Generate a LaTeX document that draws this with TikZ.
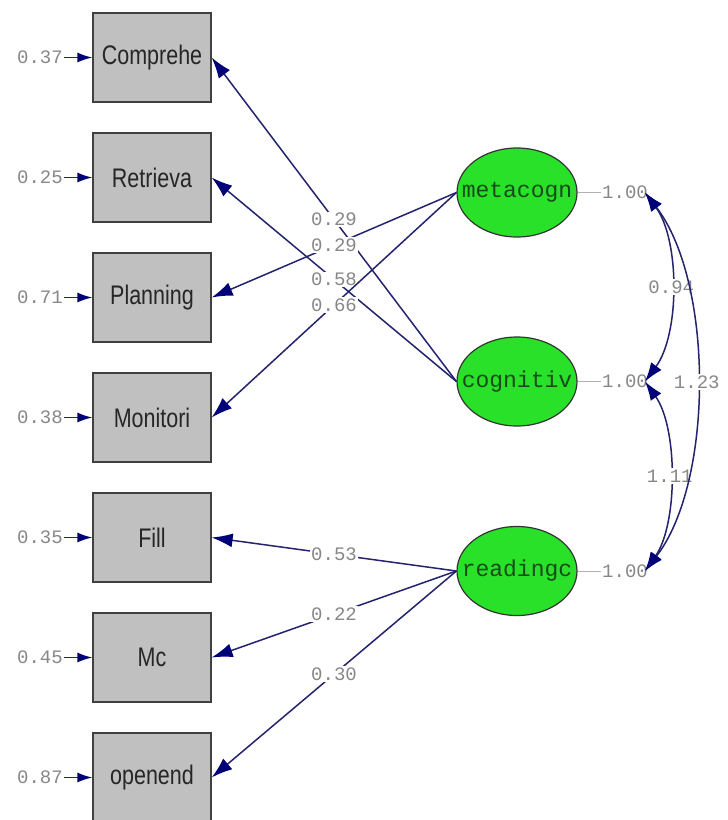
\documentclass[tikz,border=0pt]{standalone}
\usepackage{fontspec}
\usepackage{graphicx}
\setmainfont{Liberation Sans}
\newfontfamily\monofont{Liberation Mono}
\usetikzlibrary{arrows.meta,shapes.geometric}
\definecolor{navy}{RGB}{35,35,110}
\definecolor{tipnavy}{RGB}{0,0,120}
\definecolor{lblgray}{RGB}{135,135,135}
\definecolor{boxgray}{RGB}{192,192,192}
\definecolor{latgreen}{RGB}{40,225,40}
\definecolor{lattextc}{RGB}{25,75,25}
\newcommand\vstretch[1]{\scalebox{1}[1.25]{#1}}
\begin{document}
\begin{tikzpicture}[x=1pt,y=-1pt,
 obs/.style={draw=black!75, line width=1.3pt, fill=boxgray, minimum width=118pt, minimum height=89pt, inner sep=0pt, font=\fontsize{21.5}{24}\selectfont, text=black!85},
 lat/.style={ellipse, draw=black!80, line width=1.2pt, fill=latgreen, minimum width=120pt, minimum height=89pt, inner sep=0pt},
 lattxt/.style={font=\monofont\fontsize{23}{26}\selectfont, text=lattextc, inner sep=0pt},
 lab/.style={font=\monofont\fontsize{19}{22}\selectfont, text=lblgray, inner sep=1pt},
 wlab/.style={lab, fill=white, inner sep=1.5pt},
 load/.style={draw=navy, line width=1.5pt, -{Latex[length=21pt,width=14pt,color=tipnavy]}},
 errarr/.style={draw=navy, line width=1.5pt, -{Latex[length=15pt,width=10pt,color=tipnavy]}},
 cov/.style={draw=navy, line width=1.5pt, {Latex[length=19pt,width=13pt,color=tipnavy]}-{Latex[length=19pt,width=13pt,color=tipnavy]}},
 varline/.style={draw=black!30, line width=1pt}
]
\useasboundingbox[fill=white] (0,0) rectangle (728,820);

% observed variables
\node[obs] (comp) at (152,57.5)  {\vstretch{Comprehe}};
\node[obs] (retr) at (152,177.5) {\vstretch{Retrieva}};
\node[obs] (plan) at (152,297.5) {\vstretch{Planning}};
\node[obs] (moni) at (152,417.5) {\vstretch{Monitori}};
\node[obs] (fill) at (152,537.5) {\vstretch{Fill}};
\node[obs] (mc)   at (152,657.5) {\vstretch{Mc}};
\node[obs] (open) at (152,777.5) {\vstretch{openend}};

% error variances
\node[lab, anchor=east] (e1) at (64,57.5)  {0.37};
\node[lab, anchor=east] (e2) at (64,177.5) {0.25};
\node[lab, anchor=east] (e3) at (64,297.5) {0.71};
\node[lab, anchor=east] (e4) at (64,417.5) {0.38};
\node[lab, anchor=east] (e5) at (64,537.5) {0.35};
\node[lab, anchor=east] (e6) at (64,657.5) {0.45};
\node[lab, anchor=east] (e7) at (64,777.5) {0.87};
\foreach \e/\b in {e1/comp,e2/retr,e3/plan,e4/moni,e5/fill,e6/mc,e7/open}
  \draw[errarr] (\e.east) -- (\b.west);

% latent variables
\node[lat] (meta) at (517,192.5) {};
\node[lat] (cogn) at (517,381.5) {};
\node[lat] (read) at (517,571) {};
\node[lattxt] at (meta) {metacogn};
\node[lattxt] at (cogn) {cognitiv};
\node[lattxt] at (read) {readingc};

% loadings
\draw[load] (cogn.west) -- (comp.east) node[wlab,pos=0.5] {0.29};
\draw[load] (cogn.west) -- (retr.east) node[wlab,pos=0.5] {0.58};
\draw[load] (meta.west) -- (plan.east) node[wlab,pos=0.5] {0.29};
\draw[load] (meta.west) -- (moni.east) node[wlab,pos=0.5] {0.66};
\draw[load] (read.west) -- (fill.east) node[wlab,pos=0.5] {0.53};
\draw[load] (read.west) -- (mc.east)   node[wlab,pos=0.5] {0.22};
\draw[load] (read.west) -- (open.east) node[wlab,pos=0.5] {0.30};

% variances of latent variables
\node[lab, anchor=west] (v1) at (601,192.5) {1.00};
\node[lab, anchor=west] (v2) at (601,381.5) {1.00};
\node[lab, anchor=west] (v3) at (601,571)   {1.00};
\draw[varline] (meta.east) -- (v1.west);
\draw[varline] (cogn.east) -- (v2.west);
\draw[varline] (read.east) -- (v3.west);

% covariances
\draw[cov] ([xshift=-4pt]v1.east) .. controls (680,240) and (680,334) .. ([xshift=-4pt]v2.east) node[wlab,pos=0.5] {0.94};
\draw[cov] ([xshift=-4pt]v2.east) .. controls (678,428) and (678,524) .. ([xshift=-4pt]v3.east) node[wlab,pos=0.5] {1.11};
\draw[cov] ([xshift=-4pt]v1.east) .. controls (714,282) and (714,482) .. ([xshift=-4pt]v3.east) node[wlab,pos=0.5] {1.23};
\end{tikzpicture}
\end{document}
